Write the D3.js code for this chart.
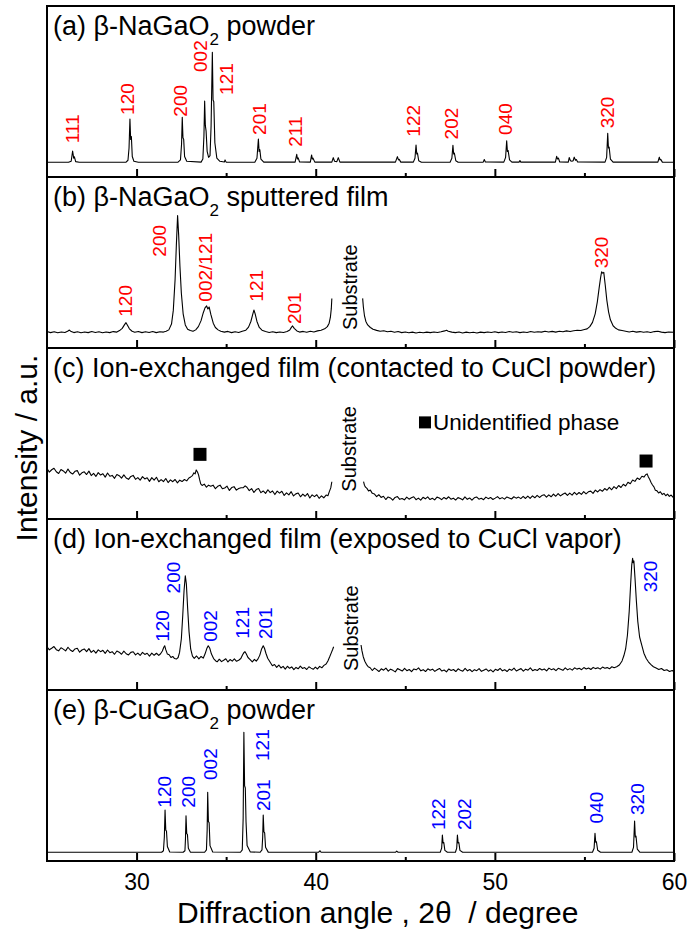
<!DOCTYPE html>
<html>
<head>
<meta charset="utf-8">
<script src="https://cdn.jsdelivr.net/npm/d3@7"></script>
<style>
  html, body { margin: 0; padding: 0; background: #fff; }
  svg { display: block; font-family: "Liberation Sans", Arial, sans-serif; }
</style>
</head>
<body>
<script>
// ---------------- DATA (2θ in degrees, intensity in % of panel height) ----------------
const xTicksMajor = [30, 40, 50, 60];
const xTicksMinor = [35, 45, 55];

// (a) β-NaGaO2 powder
const seriesA = [
[25.0,8.6],[26.2,8.6],[26.35,9.2],[26.43,15.2],[26.49,11.0],[26.53,11.8],[26.6,9.0],[26.8,8.6],
[29.4,8.6],[29.52,9.8],[29.58,17],[29.63,33.9],[29.67,22],[29.71,23.6],[29.76,12],[29.85,9.2],[30.1,8.6],
[32.3,8.6],[32.45,10],[32.51,19],[32.55,34.9],[32.59,23],[32.63,22],[32.68,12],[32.8,9.2],
[33.6,8.7],[33.7,10.5],[33.76,24],[33.80,44.4],[33.84,30],[33.88,27],[33.94,15],[34.02,11.5],[34.1,12.5],[34.16,30],[34.23,72.9],[34.27,45],[34.31,44],[34.37,20],[34.48,11],[34.65,9.2],
[34.9,8.8],[34.94,10],[35.0,8.7],
[36.6,8.6],[36.72,11],[36.80,22.2],[36.84,15],[36.88,16],[36.94,10.5],[37.1,8.7],
[38.85,8.7],[38.94,13.3],[38.98,10.5],[39.02,11.2],[39.1,8.8],
[39.7,8.7],[39.77,12.9],[39.81,10.5],[39.85,11],[39.95,8.7],
[40.9,8.7],[40.98,11.3],[41.05,9.2],[41.18,9],[41.26,11.3],[41.35,8.7],
[44.45,8.7],[44.56,11.9],[44.62,10],[44.66,10.3],[44.75,8.7],
[45.45,8.7],[45.54,11],[45.60,18.7],[45.64,13.5],[45.68,14],[45.75,9.5],[45.9,8.6],
[47.5,8.6],[47.6,11],[47.66,18.5],[47.70,13.5],[47.74,14],[47.82,9.5],[47.95,8.6],
[49.35,8.7],[49.41,10.2],[49.47,8.8],
[50.5,8.7],[50.6,11.5],[50.66,21.2],[50.70,15],[50.74,15.5],[50.82,10],[50.95,8.7],
[51.35,8.7],[51.40,9.6],[51.45,8.7],
[53.38,8.7],[53.45,12.1],[53.5,10.5],[53.55,11],[53.62,8.8],
[54.1,8.7],[54.15,11.4],[54.22,9.5],[54.3,9.2],[54.37,9.5],[54.43,11.6],[54.5,9.8],[54.55,10.2],[54.62,8.8],
[56.15,8.7],[56.24,11.5],[56.30,25.5],[56.34,17],[56.38,17.5],[56.45,10.5],[56.6,8.7],
[59.1,8.7],[59.18,11.6],[59.22,10],[59.26,10.3],[59.35,8.7],[60,8.6]
];

// (b) β-NaGaO2 sputtered film (two segments around substrate)
const seriesB1 = [
[25.0,9.6],[25.2,9.0],[25.4,9.5],[25.6,8.9],[25.8,9.4],[26.0,9.1],[26.15,9.8],[26.25,10.5],[26.35,9.6],[26.5,9.0],[26.7,9.5],[26.9,8.9],[27.1,9.4],[27.3,9.0],[27.5,9.6],[27.7,9.1],[27.9,9.5],[28.1,8.9],[28.3,9.4],[28.5,9.0],[28.7,9.6],[28.9,9.3],[29.05,10.2],[29.2,11.5],[29.32,13.5],[29.41,14.8],[29.5,13.2],[29.6,11.2],[29.75,9.8],[29.9,9.2],[30.1,9.6],[30.3,9.0],[30.5,9.5],[30.7,9.1],[30.9,9.6],[31.1,9.0],[31.3,9.5],[31.5,9.3],[31.65,9.8],[31.8,10.6],[31.95,14],[32.05,22],[32.15,40],[32.22,60],[32.29,77.4],[32.35,66],[32.42,48],[32.5,32],[32.6,20],[32.72,13.5],[32.85,11],[33.0,10.2],[33.15,9.8],[33.3,10.6],[33.45,12.5],[33.6,16],[33.72,20.5],[33.82,23.5],[33.91,24.6],[33.98,22.8],[34.05,24.0],[34.15,19.5],[34.28,14.5],[34.4,12],[34.55,10.6],[34.7,9.8],[34.9,9.3],[35.1,9.7],[35.3,9.0],[35.5,9.5],[35.7,9.1],[35.9,9.8],[36.1,10.4],[36.25,12.2],[36.38,15.5],[36.48,19.5],[36.55,22.2],[36.62,20],[36.72,15.5],[36.85,12],[37.0,10.4],[37.2,9.6],[37.4,9.1],[37.6,9.5],[37.8,9.0],[38.0,9.4],[38.2,9.1],[38.4,9.6],[38.55,10.5],[38.65,12.2],[38.71,12.9],[38.8,11.5],[38.95,10],[39.1,9.3],[39.3,9.7],[39.5,9.2],[39.7,9.8],[39.9,9.4],[40.1,10],[40.3,10.4],[40.5,11.2],[40.65,12.5],[40.75,14.5],[40.82,18],[40.87,23],[40.9,29]
];
const seriesB2 = [
[42.62,29],[42.66,24],[42.72,19],[42.8,15.5],[42.9,13.5],[43.05,12],[43.2,11],[43.4,10.3],[43.6,9.8],[43.8,10.1],[44.0,9.5],[44.2,9.8],[44.4,9.2],[44.6,9.6],[44.8,9.0],[45.0,9.4],[45.2,8.9],[45.4,9.3],[45.6,8.8],[45.8,9.2],[46.0,8.9],[46.2,9.3],[46.4,9.0],[46.6,9.4],[46.8,9.1],[47.0,9.5],[47.2,10.0],[47.3,10.4],[47.4,9.8],[47.6,9.3],[47.8,9.0],[48.0,9.4],[48.2,8.8],[48.4,9.3],[48.6,8.9],[48.8,9.2],[49.0,8.8],[49.2,9.3],[49.4,9.0],[49.6,9.4],[49.8,9.1],[50.0,9.5],[50.2,9.0],[50.4,9.4],[50.6,9.1],[50.8,9.6],[51.0,9.2],[51.2,9.5],[51.4,9.0],[51.6,9.4],[51.8,9.1],[52.0,9.6],[52.2,9.2],[52.4,9.5],[52.6,9.3],[52.8,9.8],[53.0,9.4],[53.2,9.7],[53.4,9.3],[53.6,9.8],[53.8,9.5],[54.0,10.0],[54.2,9.6],[54.4,10.1],[54.6,10.4],[54.8,10.2],[55.0,10.8],[55.15,11.2],[55.3,12.5],[55.45,15],[55.6,20],[55.72,27],[55.82,35],[55.9,41],[55.96,44.6],[56.02,43.8],[56.08,44.2],[56.16,37],[56.25,28],[56.35,21],[56.45,16.5],[56.6,13],[56.75,11.5],[56.9,10.6],[57.1,10.2],[57.3,9.8],[57.5,9.4],[57.7,9.8],[57.9,9.3],[58.1,9.6],[58.3,9.2],[58.5,9.5],[58.7,9.1],[58.9,9.6],[59.1,9.8],[59.3,9.3],[59.5,9.0],[59.7,9.4],[60.0,9.2]
];

// (c) Ion-exchanged film (contacted to CuCl powder)
const seriesC1 = [
[25.00,29.5],[25.13,27.4],[25.26,28.8],[25.39,29.7],[25.52,27.6],[25.65,26.6],[25.78,28.9],[25.91,28.1],[26.04,26.8],[26.17,29.2],[26.30,27.2],[26.43,26.3],[26.56,27.9],[26.69,28.3],[26.82,25.6],[26.95,27.0],[27.08,27.6],[27.21,26.0],[27.34,28.0],[27.47,25.4],[27.60,26.7],[27.73,24.9],[27.86,27.1],[27.99,25.7],[28.12,26.5],[28.25,24.5],[28.38,26.9],[28.51,25.0],[28.64,25.5],[28.77,23.8],[28.90,26.0],[29.03,25.3],[29.16,23.9],[29.29,25.8],[29.42,24.0],[29.55,23.2],[29.68,24.9],[29.81,25.5],[29.94,23.2],[30.07,24.2],[30.20,22.7],[30.33,24.8],[30.46,23.4],[30.59,24.1],[30.72,22.0],[30.85,24.2],[30.98,22.7],[31.11,24.4],[31.24,21.8],[31.37,23.0],[31.50,21.9],[31.63,23.7],[31.76,21.3],[31.89,22.9],[32.02,21.8],[32.15,23.1],[32.28,21.1],[32.41,22.7],[32.54,21.9],[32.67,23.1],[32.80,22.3],[32.92,24.0],[33.02,24.6],[33.12,25.4],[33.20,27.0],[33.27,26.4],[33.33,28.7],[33.40,27.5],[33.46,25.8],[33.52,23.0],[33.58,20.6],[33.66,19.6],[33.78,20.4],[33.90,18.6],[34.02,19.8],[34.14,19.2],[34.27,19.8],[34.40,17.7],[34.53,19.1],[34.66,19.8],[34.79,17.7],[34.92,18.1],[35.05,19.2],[35.18,16.7],[35.31,18.4],[35.44,18.9],[35.57,16.9],[35.70,17.8],[35.83,18.3],[35.96,18.3],[36.06,19.4],[36.16,18.6],[36.29,16.6],[36.42,17.8],[36.55,15.5],[36.68,17.2],[36.81,17.8],[36.94,15.4],[37.07,16.4],[37.20,15.0],[37.33,17.1],[37.46,15.4],[37.59,16.4],[37.72,14.3],[37.85,16.3],[37.98,15.1],[38.11,16.2],[38.24,13.8],[38.37,15.3],[38.50,14.1],[38.63,16.0],[38.76,13.5],[38.89,14.7],[39.02,15.2],[39.15,13.0],[39.28,14.5],[39.41,13.3],[39.54,14.9],[39.67,12.3],[39.80,14.1],[39.93,13.1],[40.06,14.2],[40.19,12.1],[40.32,13.5],[40.45,12.4],[40.58,14.0],[40.68,13.6],[40.76,16.0],[40.84,18.2],[40.90,21.8]
];
const seriesC2 = [
[42.67,21.8],[42.72,19.8],[42.78,18.6],[42.86,17.9],[42.95,16.4],[43.05,16.9],[43.16,15.0],[43.28,14.6],[43.40,13.1],[43.52,14.2],[43.65,12.6],[43.78,13.3],[43.91,11.4],[44.04,12.9],[44.17,12.3],[44.30,11.0],[44.43,12.6],[44.56,13.1],[44.69,11.5],[44.82,12.0],[44.95,11.2],[45.08,12.8],[45.21,11.6],[45.34,12.4],[45.47,13.0],[45.60,11.3],[45.73,12.2],[45.86,11.0],[45.99,12.7],[46.12,11.8],[46.25,12.9],[46.38,11.4],[46.51,12.1],[46.64,11.2],[46.77,12.8],[46.90,12.3],[47.03,11.3],[47.16,12.6],[47.29,11.7],[47.42,13.0],[47.55,11.6],[47.68,12.2],[47.81,11.1],[47.94,12.5],[48.07,12.0],[48.20,11.2],[48.33,12.9],[48.46,11.5],[48.59,12.3],[48.72,11.0],[48.85,12.4],[48.98,12.9],[49.11,11.6],[49.24,12.1],[49.37,11.3],[49.50,12.8],[49.63,11.9],[49.76,12.6],[49.89,11.4],[50.02,12.2],[50.15,13.1],[50.28,11.8],[50.41,12.5],[50.54,11.6],[50.67,12.9],[50.80,12.3],[50.93,11.7],[51.06,13.0],[51.19,12.2],[51.32,12.8],[51.45,11.9],[51.58,13.2],[51.71,12.0],[51.84,13.4],[51.97,12.1],[52.10,13.5],[52.23,12.4],[52.36,13.8],[52.49,12.6],[52.62,13.7],[52.75,14.2],[52.88,12.8],[53.01,14.1],[53.14,13.0],[53.27,14.6],[53.40,13.3],[53.53,14.9],[53.66,13.5],[53.79,14.5],[53.92,15.2],[54.05,13.8],[54.18,15.1],[54.31,14.0],[54.44,15.6],[54.57,14.2],[54.70,15.5],[54.83,14.4],[54.96,16.0],[55.09,14.7],[55.22,15.9],[55.35,16.3],[55.48,15.0],[55.61,16.9],[55.74,15.8],[55.87,17.2],[56.00,16.2],[56.13,17.8],[56.26,16.8],[56.39,18.5],[56.52,17.1],[56.65,18.9],[56.78,17.8],[56.91,19.6],[57.04,18.4],[57.17,20.3],[57.30,19.3],[57.43,21.5],[57.56,20.6],[57.69,22.8],[57.82,22.0],[57.95,24.0],[58.08,23.1],[58.21,25.0],[58.32,24.5],[58.42,25.9],[58.50,26.4],[58.57,24.6],[58.64,23.2],[58.72,21.4],[58.80,19.9],[58.88,18.8],[58.96,16.8],[59.04,16.6],[59.14,15.2],[59.24,15.9],[59.34,14.3],[59.44,15.0],[59.54,13.6],[59.64,14.5],[59.74,13.2],[59.84,14.0],[59.94,12.8],[60.00,13.4]
];

// (d) Ion-exchanged film (exposed to CuCl vapor)
const seriesD1 = [
[25.00,25.3],[25.13,23.5],[25.26,24.4],[25.39,25.4],[25.52,23.6],[25.65,22.9],[25.78,24.7],[25.91,23.9],[26.04,22.9],[26.17,25.0],[26.30,23.4],[26.43,22.5],[26.56,24.0],[26.69,24.4],[26.82,22.1],[26.95,23.4],[27.08,24.0],[27.21,22.4],[27.34,24.2],[27.47,22.0],[27.60,23.2],[27.73,21.6],[27.86,23.5],[27.99,22.4],[28.12,23.2],[28.25,21.4],[28.38,23.4],[28.51,21.8],[28.64,22.4],[28.77,20.9],[28.90,22.8],[29.03,22.1],[29.16,20.9],[29.29,22.7],[29.42,21.2],[29.55,20.5],[29.68,22.0],[29.81,22.4],[29.94,20.5],[30.07,21.6],[30.20,20.2],[30.33,22.0],[30.46,20.8],[30.59,21.5],[30.72,19.8],[30.85,21.6],[30.98,20.3],[31.11,21.5],[31.24,20.2],[31.34,21.2],[31.44,22.8],[31.52,25.0],[31.57,25.9],[31.63,23.6],[31.72,21.0],[31.82,20.6],[31.92,19.0],[32.02,19.6],[32.12,18.4],[32.22,18.1],[32.32,19.0],[32.40,22.0],[32.50,30],[32.58,44],[32.65,58],[32.72,66.8],[32.78,62],[32.85,48],[32.93,34],[33.02,24],[33.12,19.8],[33.22,18.5],[33.35,19.9],[33.48,18.2],[33.60,19.6],[33.72,18.6],[33.82,21.0],[33.92,24.2],[34.00,25.9],[34.08,24.6],[34.18,21.0],[34.30,18.4],[34.42,17.0],[34.50,16.5],[34.62,18.0],[34.74,16.6],[34.86,17.4],[34.98,18.3],[35.10,16.4],[35.22,17.8],[35.34,16.9],[35.46,18.2],[35.58,16.8],[35.70,17.4],[35.82,18.4],[35.92,20.6],[36.00,22.0],[36.05,22.4],[36.12,21.2],[36.22,19.0],[36.34,17.8],[36.46,16.4],[36.58,17.9],[36.68,16.9],[36.78,18.2],[36.88,20.4],[36.98,24.0],[37.07,25.9],[37.14,24.4],[37.22,21.5],[37.32,18.6],[37.45,16.4],[37.58,14.2],[37.70,14.9],[37.82,13.2],[37.94,14.6],[38.06,12.9],[38.18,13.8],[38.30,12.2],[38.42,13.9],[38.54,12.7],[38.66,13.5],[38.78,11.9],[38.90,13.2],[39.02,12.4],[39.14,14.0],[39.26,12.6],[39.38,13.1],[39.50,12.0],[39.62,13.6],[39.74,12.8],[39.86,12.1],[39.98,13.4],[40.10,12.3],[40.22,13.8],[40.34,13.0],[40.46,14.4],[40.58,15.2],[40.68,17.0],[40.78,19.4],[40.88,22.0],[40.95,23.8],[41.00,25.3]
];
const seriesD2 = [
[42.53,26.3],[42.58,23.0],[42.65,19.6],[42.74,16.8],[42.83,15.0],[42.93,13.6],[43.04,13.0],[43.16,11.4],[43.28,12.8],[43.40,11.9],[43.53,10.8],[43.66,12.4],[43.79,11.6],[43.92,12.8],[44.05,11.0],[44.18,12.2],[44.31,11.5],[44.44,10.6],[44.57,12.5],[44.70,11.9],[44.83,11.1],[44.96,12.7],[45.09,11.3],[45.22,12.0],[45.35,10.7],[45.48,12.3],[45.61,11.8],[45.74,12.9],[45.87,11.2],[46.00,11.9],[46.13,10.8],[46.26,12.4],[46.39,11.6],[46.52,12.2],[46.65,10.9],[46.78,11.8],[46.91,12.6],[47.04,11.1],[47.17,11.7],[47.30,10.6],[47.43,12.3],[47.56,11.4],[47.69,12.0],[47.82,10.8],[47.95,12.4],[48.08,11.5],[48.21,11.0],[48.34,12.6],[48.47,11.2],[48.60,12.0],[48.73,10.7],[48.86,11.9],[48.99,11.3],[49.12,12.5],[49.25,10.9],[49.38,11.6],[49.51,12.3],[49.64,11.0],[49.77,11.8],[49.90,10.6],[50.03,12.1],[50.16,11.4],[50.29,12.7],[50.42,11.2],[50.55,11.9],[50.68,10.8],[50.81,12.2],[50.94,11.5],[51.07,12.8],[51.20,11.1],[51.33,11.9],[51.46,12.5],[51.59,11.0],[51.72,12.2],[51.85,11.6],[51.98,12.9],[52.11,11.3],[52.24,12.0],[52.37,11.4],[52.50,12.6],[52.63,11.7],[52.76,12.3],[52.89,11.2],[53.02,12.8],[53.15,11.9],[53.28,12.4],[53.41,11.3],[53.54,12.7],[53.67,12.1],[53.80,11.5],[53.93,12.9],[54.06,11.8],[54.19,12.5],[54.32,11.6],[54.45,13.0],[54.58,12.2],[54.71,12.7],[54.84,11.9],[54.97,13.1],[55.10,12.3],[55.23,12.9],[55.36,12.0],[55.49,13.2],[55.62,12.5],[55.75,13.0],[55.88,12.2],[56.01,13.4],[56.14,12.7],[56.27,13.1],[56.40,12.4],[56.53,13.6],[56.66,13.0],[56.80,13.6],[56.95,14.6],[57.10,17],[57.20,20],[57.30,24],[57.40,32],[57.50,46],[57.58,62],[57.64,73],[57.69,77],[57.72,74.5],[57.76,75.5],[57.82,66],[57.90,52],[57.98,40],[58.08,31],[58.20,26.3],[58.32,21.5],[58.45,18.4],[58.57,16.5],[58.70,15.0],[58.85,13.6],[59.00,12.8],[59.15,12.0],[59.30,12.6],[59.45,11.4],[59.60,11.8],[59.75,10.8],[59.90,11.4],[60.00,10.7]
];

// (e) β-CuGaO2 powder
const seriesE = [
[25.0,5.1],[31.4,5.1],[31.5,6.0],[31.55,14],[31.59,29.8],[31.63,18],[31.67,17.5],[31.72,8.5],[31.85,5.3],
[32.6,5.1],[32.7,6],[32.73,13],[32.76,26.5],[32.8,16],[32.84,15.5],[32.89,7.5],[33.0,5.2],
[33.8,5.1],[33.9,6.5],[33.94,18],[33.97,40.2],[34.01,23],[34.05,22.5],[34.1,9],[34.25,5.3],
[35.8,5.1],[35.9,6.5],[35.95,25],[35.99,75.3],[36.03,44],[36.07,42.7],[36.11,23],[36.17,9],[36.35,5.3],
[36.9,5.1],[37.0,6.5],[37.04,14],[37.07,26.9],[37.11,17],[37.15,16.5],[37.2,8],[37.35,5.2],
[40.15,5.1],[40.24,6.0],[40.3,5.1],
[44.45,5.1],[44.52,5.8],[44.6,5.1],
[46.95,5.1],[47.03,7.5],[47.07,15.2],[47.11,10.5],[47.15,10.8],[47.21,6.2],[47.35,5.1],
[47.8,5.1],[47.87,7.5],[47.91,15.2],[47.95,10.5],[47.99,10.8],[48.05,6.2],[48.2,5.1],
[55.45,5.1],[55.54,7.5],[55.59,16.2],[55.63,11],[55.67,11.2],[55.74,6.3],[55.9,5.1],
[57.65,5.1],[57.74,8],[57.8,23.4],[57.84,14],[57.88,14.5],[57.95,7],[58.1,5.1],[60,5.1]
];

// Peak labels: [text, 2θ of label centre, intensity level where the label starts]
const labelsA = [["111",26.42,19.7],["120",29.45,36.3],["200",32.44,35.3],["002",33.54,61.4],["121",34.99,48.0],["201",36.83,24.6],["211",38.84,17.7],["122",45.46,23.6],["202",47.55,22.0],["040",50.57,24.6],["320",56.26,28.5]];
const labelsB = [["120",29.35,18.3],["200",31.25,53.4],["002/121",33.82,27.1],["121",36.67,27.1],["201",38.79,14.0],["320",55.92,46.6]];
const labelsD = [["120",31.42,28.2],["200",32.05,56.5],["002",34.08,28.2],["121",35.89,30.0],["201",37.20,29.8],["320",58.66,57.1]];
const labelsE = [["120",31.52,31.2],["200",32.87,31.2],["002",34.13,47.4],["121",36.99,58.5],["201",37.07,29.2],["122",46.81,18.1],["202",48.29,18.1],["040",55.68,22.0],["320",57.97,26.9]];
const substrateLabels = [[1,41.91,10.5],[2,41.86,16.0],[3,41.95,11.1]]; // [panel, 2θ, level]
const unidentifiedMarks = [[33.54,37.8],[58.44,33.9]];   // panel (c)
const legendPos = [46.10, 56.5];

const panelTitles = [
  {pre:"(a) β-NaGaO", sub:"2", post:" powder"},
  {pre:"(b) β-NaGaO", sub:"2", post:" sputtered film"},
  {pre:"(c) Ion-exchanged film (contacted to CuCl powder)"},
  {pre:"(d) Ion-exchanged film (exposed to CuCl vapor)"},
  {pre:"(e) β-CuGaO", sub:"2", post:" powder"}
];

// ---------------- LAYOUT ----------------
const W = 692, H = 932;
const left = 47, right = 674, top0 = 6, panelH = 171;
const x = d3.scaleLinear().domain([25, 60]).range([left, right]);
const yScales = d3.range(5).map(i =>
  d3.scaleLinear().domain([0, 100]).range([top0 + (i + 1) * panelH, top0 + i * panelH]));

const svg = d3.select("body").append("svg").attr("width", W).attr("height", H);
svg.append("rect").attr("width", W).attr("height", H).attr("fill", "#fff");

const seriesByPanel = [[seriesA], [seriesB1, seriesB2], [seriesC1, seriesC2], [seriesD1, seriesD2], [seriesE]];
const labelsByPanel = [labelsA, labelsB, [], labelsD, labelsE];
const labelColor = ["#ff0000", "#ff0000", "#000", "#0000ff", "#0000ff"];

yScales.forEach((y, i) => {
  const g = svg.append("g");
  const line = d3.line().x(d => x(d[0])).y(d => y(d[1]));
  seriesByPanel[i].forEach(s => {
    g.append("path").attr("d", line(s)).attr("fill", "none")
      .attr("stroke", "#000").attr("stroke-width", 1.1).attr("stroke-linejoin", "round");
  });

  // ticks (inward, on bottom edge)
  const bottom = y.range()[0];
  const axMaj = d3.axisBottom(x).tickValues(xTicksMajor).tickSize(-8).tickFormat(i === 4 ? d3.format("d") : () => "");
  const axMin = d3.axisBottom(x).tickValues(xTicksMinor).tickSize(-4).tickFormat(() => "");
  const ga = g.append("g").attr("transform", `translate(0,${bottom})`).call(axMaj);
  const gm = g.append("g").attr("transform", `translate(0,${bottom})`).call(axMin);
  [ga, gm].forEach(a => {
    a.select(".domain").remove();
    a.selectAll("line").attr("stroke", "#000").attr("stroke-width", 2);
  });
  ga.selectAll("text").attr("y", 29).attr("dy", null)
    .attr("font-size", 23).attr("fill", "#000")
    .attr("font-family", "'Liberation Sans', Arial, sans-serif");

  // frame
  g.append("rect").attr("x", left).attr("y", y.range()[1])
    .attr("width", right - left).attr("height", panelH)
    .attr("fill", "none").attr("stroke", "#000").attr("stroke-width", 2);

  // title
  const t = panelTitles[i];
  const tt = g.append("text").attr("x", 53).attr("y", y.range()[1] + 29)
    .attr("font-size", 27).attr("fill", "#000").style("white-space", "pre");
  tt.append("tspan").text(t.pre);
  if (t.sub) {
    tt.append("tspan").attr("font-size", 17).attr("dy", 10).text(t.sub);
    tt.append("tspan").attr("dy", -10).text(t.post);
  }

  // peak labels
  labelsByPanel[i].forEach(([txt, ang, lev]) => {
    g.append("text")
      .attr("transform", `translate(${x(ang)},${y(lev)}) rotate(-90)`)
      .attr("dy", "0.36em").attr("font-size", 19).attr("fill", labelColor[i]).text(txt);
  });
});

// substrate labels
substrateLabels.forEach(([p, ang, lev]) => {
  svg.append("text")
    .attr("transform", `translate(${x(ang)},${yScales[p](lev)}) rotate(-90)`)
    .attr("dy", "0.36em").attr("font-size", 20).attr("fill", "#000").text("Substrate");
});

// unidentified phase markers (panel c)
const yc = yScales[2];
const sq = 13;
unidentifiedMarks.forEach(([ang, lev]) => {
  svg.append("rect").attr("x", x(ang) - sq / 2).attr("y", yc(lev) - sq / 2)
    .attr("width", sq).attr("height", sq).attr("fill", "#000");
});
svg.append("rect").attr("x", x(legendPos[0]) - 6).attr("y", yc(legendPos[1]) - 6)
  .attr("width", 12).attr("height", 12).attr("fill", "#000");
svg.append("text").attr("x", x(legendPos[0]) + 8).attr("y", yc(legendPos[1]) + 8)
  .attr("font-size", 22.5).attr("fill", "#000").text("Unidentified phase");

// axis titles
svg.append("text").attr("x", 177).attr("y", 923).attr("font-size", 30).attr("fill", "#000")
  .style("white-space", "pre").text("Diffraction angle , 2θ  / degree");
svg.append("text").attr("transform", "translate(37,448) rotate(-90)")
  .attr("text-anchor", "middle").attr("font-size", 30).attr("fill", "#000")
  .text("Intensity / a.u.");
</script>
</body>
</html>
